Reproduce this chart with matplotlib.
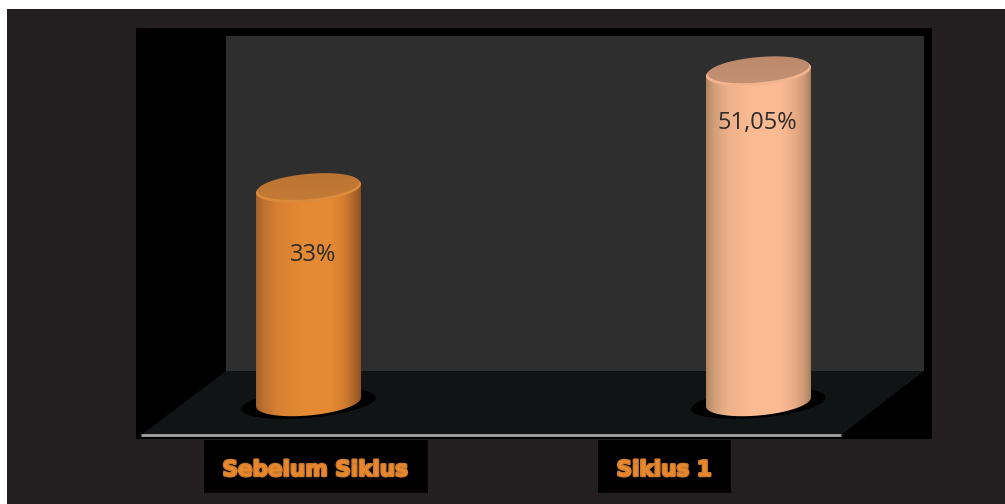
# Two-bar cylinder chart on a dark 3D-style stage
from matplotlib import pyplot as plt
from matplotlib.colors import LinearSegmentedColormap
from matplotlib.patches import PathPatch, Polygon, Rectangle
from matplotlib.path import Path
import matplotlib.patheffects as pe
import numpy as np

categories = ["Sebelum Siklus", "Siklus 1"]
values = [33, 51.05]
value_labels = ["33%", "51,05%"]

stop_positions = [0, 0.07, 0.2, 0.45, 0.72, 0.85, 0.95, 1]
body_stops = [
    ["#a2602a", "#bd7030", "#d68033", "#e58a35", "#e48934", "#cf7c30", "#a86228", "#8f5424"],
    ["#b0845f", "#cf9d78", "#eeb089", "#fcbc93", "#fbba92", "#e8ab85", "#c99673", "#a67c58"],
]
cap_colors = [("#c97e38", "#b87232"), ("#c8957a", "#b98566")]
rim_colors = ["#dd8a3a", "#f0b48e"]

WIDTH, HEIGHT = 1005, 504
# screen scale of the value and category axes
PX_PER_CAT = 450.0
PX_PER_UNIT = 6.47
X0_PX, Y0_PX = 308.5, 402.0
BAR_WIDTH = 105 / PX_PER_CAT
ELL_B = 13.5 / PX_PER_UNIT
SHEAR = 0.085 * PX_PER_CAT / PX_PER_UNIT

plt.rcParams["font.family"] = ["Open Sans", "DejaVu Sans"]
fig = plt.figure(figsize=(WIDTH / 100, HEIGHT / 100), dpi=100, facecolor="white")

# Stage: background, walls and floor, in figure pixels
stage = fig.add_axes([0, 0, 1, 1], zorder=1)
stage.set_xlim(0, WIDTH)
stage.set_ylim(HEIGHT, 0)
stage.axis("off")
stage.add_patch(Rectangle((7, 9), WIDTH - 7, HEIGHT - 9, fc="#231f20", ec="none"))
stage.add_patch(Rectangle((136, 28), 796, 411, fc="black", ec="none"))
stage.add_patch(Rectangle((226, 36), 698, 335, fc="#2e2e2e", ec="none"))
stage.add_patch(Polygon([(226, 371), (924, 371), (841, 435), (141, 435)], fc="#111414", ec="none"))
stage.plot([141, 841], [435, 435], color="#a3a3a3", lw=2, solid_capstyle="butt")

label_boxes = [(204, 440, 224, 53), (598, 440, 133, 53)]
label_centers = [(315, 470), (664, 470)]
for cat, box, center in zip(categories, label_boxes, label_centers):
    stage.add_patch(Rectangle(box[:2], box[2], box[3], fc="black", ec="none"))
    txt = stage.text(center[0], center[1], cat, ha="center", va="center", color="#e8872b",
                     fontsize=15.5, fontweight="bold", family="DejaVu Sans")
    txt.set_path_effects([pe.withStroke(linewidth=1.8, foreground="#c87a30")])

# Chart axes share the figure area, scaled so the cylinders follow the values
ax = fig.add_axes([0, 0, 1, 1], zorder=2)
ax.patch.set_alpha(0)
ax.axis("off")
xlim = (-X0_PX / PX_PER_CAT, (WIDTH - X0_PX) / PX_PER_CAT)
ylim = ((Y0_PX - HEIGHT) / PX_PER_UNIT, Y0_PX / PX_PER_UNIT)


def ellipse_points(xc, yc, half_w, half_h, start=0.0, end=2 * np.pi, n=120):
    # Sheared ellipse, the right end sits higher than the left
    t = np.linspace(start, end, n)
    x = half_w * np.cos(t)
    y = half_h * np.sin(t) + SHEAR * x
    return np.column_stack([xc + x, yc + y])


def draw_cylinder(i, value):
    half_w = BAR_WIDTH / 2
    # Floor shadow
    shadow = ellipse_points(i, -0.2, half_w * 1.28, ELL_B * 1.08)
    ax.add_patch(Polygon(shadow, fc="black", ec="none", zorder=2))

    # Body outline: up the right side, across the top, round the bottom arc
    bottom_arc = ellipse_points(i, 0, half_w, ELL_B, np.pi, 2 * np.pi)
    top_arc = ellipse_points(i, value, half_w, ELL_B, 0, np.pi)
    outline = np.vstack([bottom_arc, top_arc, bottom_arc[:1]])
    body = PathPatch(Path(outline, closed=True), fc="none", ec="none", zorder=3)
    ax.add_patch(body)

    cmap = LinearSegmentedColormap.from_list(f"body{i}", list(zip(stop_positions, body_stops[i])))
    ramp = np.linspace(0, 1, 256)[None, :]
    img = ax.imshow(ramp, cmap=cmap, aspect="auto", zorder=3, interpolation="bilinear",
                    extent=(i - half_w, i + half_w, -ELL_B * 2, value + ELL_B * 2))
    img.set_clip_path(body)

    # Top cap, the lighter rim only shows along the front edge
    ax.add_patch(Polygon(ellipse_points(i, value, half_w, ELL_B), fc=rim_colors[i], ec="none", zorder=4))
    inner = ellipse_points(i, value + 0.3, half_w * 0.97, ELL_B * 0.94)
    cap = PathPatch(Path(inner, closed=True), fc="none", ec="none", zorder=5)
    ax.add_patch(cap)
    cap_map = LinearSegmentedColormap.from_list(f"cap{i}", cap_colors[i])
    cap_img = ax.imshow(np.linspace(0, 1, 64)[:, None], cmap=cap_map, aspect="auto", zorder=5,
                        origin="lower", extent=(i - half_w, i + half_w, value - ELL_B * 2, value + ELL_B * 2))
    cap_img.set_clip_path(cap)


for i, value in enumerate(values):
    draw_cylinder(i, value)

ax.set_xlim(*xlim)
ax.set_ylim(*ylim)

# Value labels sit inside the cylinders, just under the cap
label_offsets = [(4.5, -67), (-1.5, -51)]
for i, (value, label) in enumerate(zip(values, value_labels)):
    ax.annotate(label, (i, value), xytext=label_offsets[i], textcoords="offset pixels",
                ha="center", va="center", color="#2b2b2b", fontsize=17, zorder=6)

fig.savefig("out.png", dpi=100, facecolor=fig.get_facecolor())
plt.close(fig)
